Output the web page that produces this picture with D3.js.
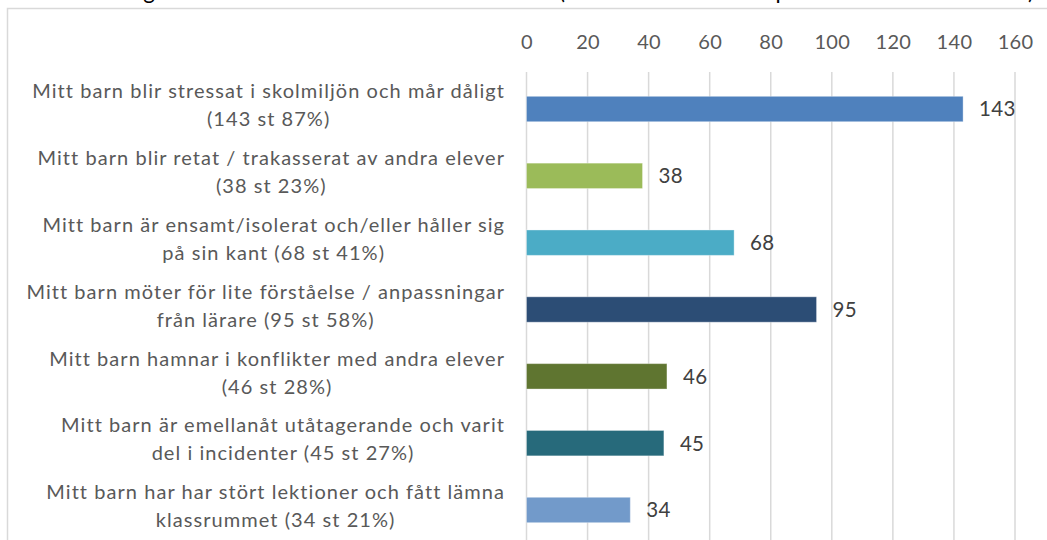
<!DOCTYPE html>
<html>
<head>
<meta charset="utf-8">
<script src="https://cdn.jsdelivr.net/npm/d3@7"></script>
<style>
  body { margin: 0; background: #fff; }
  svg { display: block; font-family: Lato, "Open Sans", sans-serif; }
</style>
</head>
<body>
<svg width="1047" height="540"></svg>
<script>
const titleText = "Barnens vardag i skolan – det som föräldrarna har svarat (antal svar och andel i procent av totalt 164 svar)";

const labels = [
  ["Mitt barn blir stressat i skolmiljön och mår dåligt", "(143 st 87%)"],
  ["Mitt barn blir retat / trakasserat av andra elever", "(38 st 23%)"],
  ["Mitt barn är ensamt/isolerat och/eller håller sig", "på sin kant (68 st 41%)"],
  ["Mitt barn möter för lite förståelse / anpassningar", "från lärare (95 st 58%)"],
  ["Mitt barn hamnar i konflikter med andra elever", "(46 st 28%)"],
  ["Mitt barn är emellanåt utåtagerande och varit", "del i incidenter (45 st 27%)"],
  ["Mitt barn har har stört lektioner och fått lämna", "klassrummet (34 st 21%)"],
];
const values = [143, 38, 68, 95, 46, 45, 34];
const colors = ["#4f81bd", "#9bbb59", "#4bacc6", "#2c4d75", "#5f7530", "#276a7b", "#729aca"];
const ticks = [0, 20, 40, 60, 80, 100, 120, 140, 160];

const svg = d3.select("svg");

// title, cut off at the top of the picture (only its descenders show)
svg.append("text")
  .attr("x", 4)
  .attr("y", -1)
  .attr("textLength", 1030)
  .attr("lengthAdjust", "spacingAndGlyphs")
  .style("font-size", "24px")
  .style("fill", "#000")
  .text(titleText);

// chart frame
svg.append("rect")
  .attr("x", 7.5)
  .attr("y", 8.5)
  .attr("width", 1200)
  .attr("height", 700)
  .attr("fill", "none")
  .attr("stroke", "#d9d9d9")
  .attr("stroke-width", 1.5);

const x = d3.scaleLinear().domain([0, 160]).range([526.5, 1015]);

const idx = values.map((d, i) => i);
const y = d3.scaleBand()
  .domain(idx)
  .range([75.6, 543.4])
  .paddingInner(0.62)
  .paddingOuter(0.31);

// gridlines
svg.append("g")
  .selectAll("line")
  .data(ticks)
  .join("line")
  .attr("x1", (d) => x(d))
  .attr("x2", (d) => x(d))
  .attr("y1", 72)
  .attr("y2", 540)
  .attr("stroke", "#d9d9d9")
  .attr("stroke-width", 1.5);

// top axis labels
const axis = svg.append("g")
  .attr("transform", "translate(0,49)")
  .call(d3.axisTop(x).tickValues(ticks).tickSize(0).tickPadding(0));
axis.select(".domain").remove();
axis.selectAll("text")
  .style("font-family", "Lato, sans-serif")
  .style("font-size", "20px")
  .style("letter-spacing", "0.3px")
  .style("fill", "#595959");

// bars
svg.append("g")
  .selectAll("rect")
  .data(idx)
  .join("rect")
  .attr("x", x(0))
  .attr("y", (i) => y(i))
  .attr("width", (i) => x(values[i]) - x(0))
  .attr("height", y.bandwidth())
  .attr("fill", (i) => colors[i])
  .attr("stroke", "#ffffff")
  .attr("stroke-opacity", 0.35)
  .attr("stroke-width", 1);

// value labels
svg.append("g")
  .selectAll("text")
  .data(idx)
  .join("text")
  .attr("x", (i) => x(values[i]) + 16)
  .attr("y", (i) => y(i) + y.bandwidth() / 2)
  .attr("dy", "0.36em")
  .style("font-size", "20.5px")
  .style("letter-spacing", "0.3px")
  .style("fill", "#404040")
  .text((i) => values[i]);

// category labels: lines centred in a block that is right aligned
const labelRight = 505;
idx.forEach((i) => {
  const cy = y(i) + y.bandwidth() / 2 - 4;
  const g = svg.append("g");
  const texts = labels[i].map((line, k) =>
    g.append("text")
      .attr("y", cy + (k - 0.5) * 28)
      .attr("dy", "0.36em")
      .attr("text-anchor", "middle")
      .style("font-size", "20px")
      .style("letter-spacing", "1.05px")
      .style("fill", "#595959")
      .text(line)
  );
  const maxW = d3.max(texts, (t) => t.node().getComputedTextLength());
  texts.forEach((t) => t.attr("x", labelRight - maxW / 2));
});
</script>
</body>
</html>
